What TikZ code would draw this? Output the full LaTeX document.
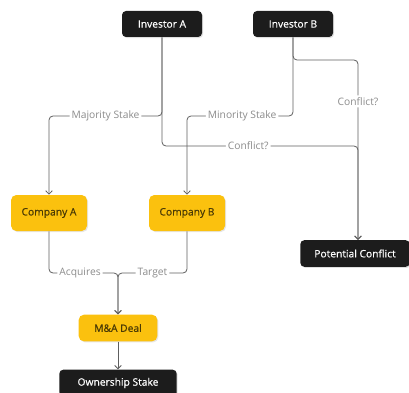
\documentclass[tikz,border=0pt]{standalone}
\usepackage{fontspec}
\setmainfont{Open Sans}
\newfontfamily\boxfont[FakeBold=0.6]{Open Sans}
\usetikzlibrary{arrows.meta,shadows}

\definecolor{boxdark}{HTML}{1C1C1C}
\definecolor{boxgold}{HTML}{FBC10E}
\definecolor{txtgold}{HTML}{4A3A05}
\definecolor{wire}{HTML}{5E5E5E}
\definecolor{wiretxt}{HTML}{8C8C8C}

\tikzset{
  darkbox/.style={draw=none, fill=boxdark, text=white, rounded corners=3pt,
    font=\boxfont\fontsize{7.7}{9}\selectfont, inner sep=0pt,
    drop shadow={opacity=0.25, shadow xshift=0.8pt, shadow yshift=-0.8pt}},
  goldbox/.style={draw=none, fill=boxgold, text=txtgold, rounded corners=4pt,
    font=\boxfont\fontsize{7.7}{9}\selectfont, inner sep=0pt,
    drop shadow={opacity=0.2, shadow xshift=0.8pt, shadow yshift=-0.8pt}},
  wire/.style={draw=wire, line width=0.6pt, rounded corners=3pt,
    -{Straight Barb[length=2.6pt,width=5pt]}},
  wirelabel/.style={fill=white, text=wiretxt, inner sep=1.5pt,
    font=\fontsize{7.7}{9}\selectfont}
}

\begin{document}
\begin{tikzpicture}[x=0.75pt,y=0.75pt,yscale=-1,xscale=1]
\useasboundingbox (0,0) rectangle (409,392);

% Nodes
\node [darkbox, minimum width=60pt, minimum height=19.5pt] (invA) at (162,24) {Investor A};
\node [darkbox, minimum width=60pt, minimum height=19.5pt] (invB) at (293,24) {Investor B};
\node [goldbox, minimum width=57pt, minimum height=27pt] (coA) at (49,213) {Company A};
\node [goldbox, minimum width=57pt, minimum height=27pt] (coB) at (187,213) {Company B};
\node [darkbox, minimum width=82pt, minimum height=20pt] (conflict) at (355,253.5) {Potential Conflict};
\node [goldbox, minimum width=59pt, minimum height=20pt] (deal) at (118,328) {M\&A Deal};
\node [darkbox, minimum width=88pt, minimum height=20pt] (owner) at (118,383) {Ownership Stake};

% Bend points
\coordinate (bendA) at (162,116);
\coordinate (bendAc) at (162,146);
\coordinate (bendB) at (293,60);
\coordinate (bendBm) at (293,116);
\coordinate (rail) at (358,60);
\coordinate (merge) at (118,273);

% Investor A
\draw [wire] (invA.south) -- (bendA) -- node [wirelabel] {Majority Stake} (bendA -| coA) -- (coA.north);
\draw [wire] (invA.south) -- (bendAc) -- node [wirelabel, pos=0.44] {Conflict?} (bendAc -| rail) -- (conflict.north -| rail);

% Investor B
\draw [wire] (invB.south) -- (bendB) -- (rail) -- node [wirelabel, pos=0.23] {Conflict?} (conflict.north -| rail);
\draw [wire] (invB.south) -- (bendBm) -- node [wirelabel, pos=0.48] {Minority Stake} (bendBm -| coB) -- (coB.north);

% Companies to deal
\draw [wire] (coA.south) -- (coA.south |- merge) -- node [wirelabel, pos=0.45] {Acquires} (merge) -- (deal.north);
\draw [wire] (coB.south) -- (coB.south |- merge) -- node [wirelabel] {Target} (merge) -- (deal.north);

\draw [wire] (deal.south) -- (owner.north);

\end{tikzpicture}
\end{document}
